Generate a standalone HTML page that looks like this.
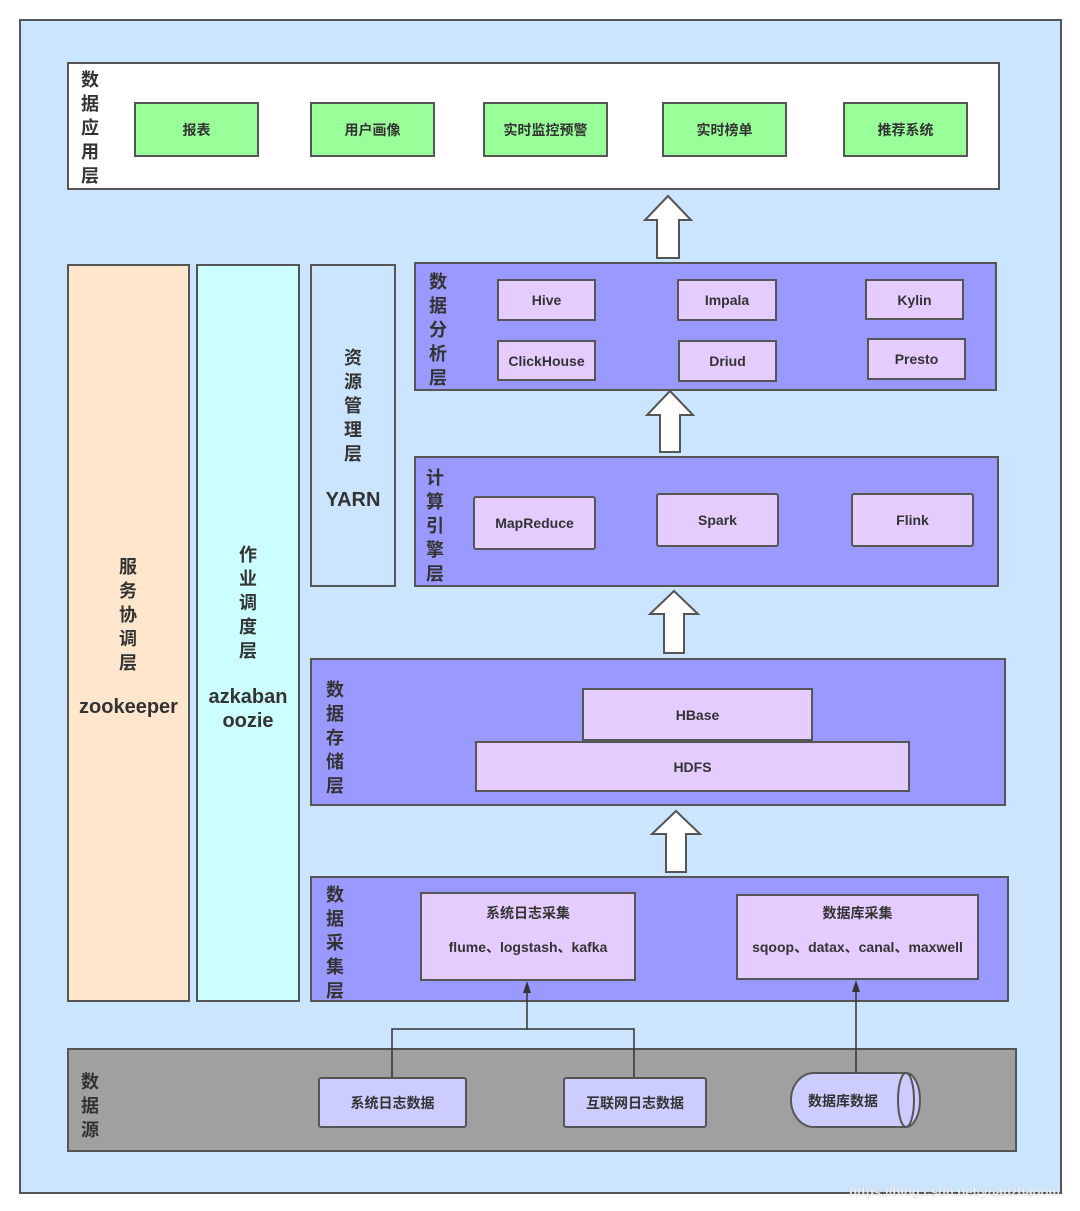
<!DOCTYPE html>
<html><head><meta charset="utf-8">
<style>
*{margin:0;padding:0;box-sizing:border-box}
body{width:1080px;height:1211px;background:#fff;position:relative;overflow:hidden;font-family:"Liberation Sans","Noto Sans CJK SC",sans-serif;color:#333;font-weight:bold}
.b{position:absolute;border:2px solid #555;}
.c{display:flex;align-items:center;justify-content:center;text-align:center;font-size:14px}
.r{border-radius:3px}
.g{background:#99ff99}
.p{background:#9999ff}
.l{background:#e5ccff}
.s{background:#ccccff}
.v{position:absolute;font-size:18px;line-height:24px;width:20px;text-align:center}
svg{position:absolute;left:0;top:0}
</style></head><body>
<div class="b" style="left:19px;top:19px;width:1043px;height:1175px;background:#cce5ff"></div>

<div class="b" style="left:67px;top:62px;width:933px;height:128px;background:#fff"></div>
<div class="v" style="left:80px;top:68px">数据应用层</div>
<div class="b c g" style="left:134px;top:102px;width:125px;height:55px">报表</div>
<div class="b c g" style="left:310px;top:102px;width:125px;height:55px">用户画像</div>
<div class="b c g" style="left:483px;top:102px;width:125px;height:55px">实时监控预警</div>
<div class="b c g" style="left:662px;top:102px;width:125px;height:55px">实时榜单</div>
<div class="b c g" style="left:843px;top:102px;width:125px;height:55px">推荐系统</div>

<div class="b" style="left:67px;top:264px;width:123px;height:738px;background:#ffe6cc"></div>
<div class="v" style="left:118px;top:555px">服务协调层</div>
<div style="position:absolute;left:67px;top:696px;width:123px;text-align:center;font-size:20px">zookeeper</div>
<div class="b" style="left:196px;top:264px;width:104px;height:738px;background:#ccffff"></div>
<div class="v" style="left:238px;top:543px">作业调度层</div>
<div style="position:absolute;left:196px;top:685px;width:104px;text-align:center;font-size:20px;line-height:24px">azkaban<br>oozie</div>
<div class="b" style="left:310px;top:264px;width:86px;height:323px;background:#cce5ff"></div>
<div class="v" style="left:343px;top:346px">资源管理层</div>
<div style="position:absolute;left:310px;top:489px;width:86px;text-align:center;font-size:20px">YARN</div>

<div class="b p" style="left:414px;top:262px;width:583px;height:129px"></div>
<div class="v" style="left:428px;top:270px">数据分析层</div>
<div class="b c l" style="left:497px;top:279px;width:99px;height:42px">Hive</div>
<div class="b c l" style="left:677px;top:279px;width:100px;height:42px">Impala</div>
<div class="b c l" style="left:865px;top:279px;width:99px;height:41px">Kylin</div>
<div class="b c l" style="left:497px;top:340px;width:99px;height:41px">ClickHouse</div>
<div class="b c l" style="left:678px;top:340px;width:99px;height:42px">Driud</div>
<div class="b c l" style="left:867px;top:338px;width:99px;height:42px">Presto</div>

<div class="b p" style="left:414px;top:456px;width:585px;height:131px"></div>
<div class="v" style="left:425px;top:466px">计算引擎层</div>
<div class="b c l r" style="left:473px;top:496px;width:123px;height:54px">MapReduce</div>
<div class="b c l r" style="left:656px;top:493px;width:123px;height:54px">Spark</div>
<div class="b c l r" style="left:851px;top:493px;width:123px;height:54px">Flink</div>

<div class="b p" style="left:310px;top:658px;width:696px;height:148px"></div>
<div class="v" style="left:325px;top:678px">数据存储层</div>
<div class="b c l" style="left:582px;top:688px;width:231px;height:53px">HBase</div>
<div class="b c l" style="left:475px;top:741px;width:435px;height:51px">HDFS</div>

<div class="b p" style="left:310px;top:876px;width:699px;height:126px"></div>
<div class="v" style="left:325px;top:883px">数据采集层</div>
<div class="b l" style="left:420px;top:892px;width:216px;height:89px;font-size:14px;text-align:center;padding-top:2px;line-height:34px">系统日志采集<br>flume、logstash、kafka</div>
<div class="b l" style="left:736px;top:894px;width:243px;height:86px;font-size:14px;text-align:center;padding-top:0px;line-height:34px">数据库采集<br>sqoop、datax、canal、maxwell</div>

<div class="b" style="left:67px;top:1048px;width:950px;height:104px;background:#a0a0a0"></div>
<div class="v" style="left:80px;top:1070px">数据源</div>
<div class="b c s r" style="left:318px;top:1077px;width:149px;height:51px">系统日志数据</div>
<div class="b c s r" style="left:563px;top:1077px;width:144px;height:51px">互联网日志数据</div>

<svg width="1080" height="1211">
<g fill="#fff" stroke="#555" stroke-width="2">
<polygon points="657,258 657,220 645,220 668,196 691,220 679,220 679,258"/>
<polygon points="660,452 660,415 647,415 670,391 693,415 680,415 680,452"/>
<polygon points="664,653 664,614 650,614 674,591 698,614 684,614 684,653"/>
<polygon points="666,872 666,834 652,834 676,811 700,834 686,834 686,872"/>
<path d="M814,1073 L906,1073 A14,27 0 0 1 906,1127 L814,1127 A23,27 0 0 1 814,1073 Z" fill="#ccccff"/>
<ellipse cx="906" cy="1100" rx="8" ry="27" fill="#ccccff"/>
</g>
<g fill="none" stroke="#333" stroke-width="1.5">
<polyline points="392,1077 392,1029 634,1029 634,1077"/>
<line x1="527" y1="1029" x2="527" y2="990"/>
<line x1="856" y1="1073" x2="856" y2="990"/>
</g>
<polygon points="527,981 523,993 531,993" fill="#333"/>
<polygon points="856,980 852,992 860,992" fill="#333"/>
<text x="843" y="1106" text-anchor="middle" font-size="14" font-weight="bold" fill="#333" font-family="Liberation Sans, Noto Sans CJK SC, sans-serif">数据库数据</text>
<text x="1060" y="1196" text-anchor="end" font-size="13" fill="#fff" fill-opacity="0.8" stroke="#bbb" stroke-width="0.3" font-family="Liberation Sans, sans-serif">https://blog.csdn.net/yuanzhaoom</text>
</svg>
</body></html>
